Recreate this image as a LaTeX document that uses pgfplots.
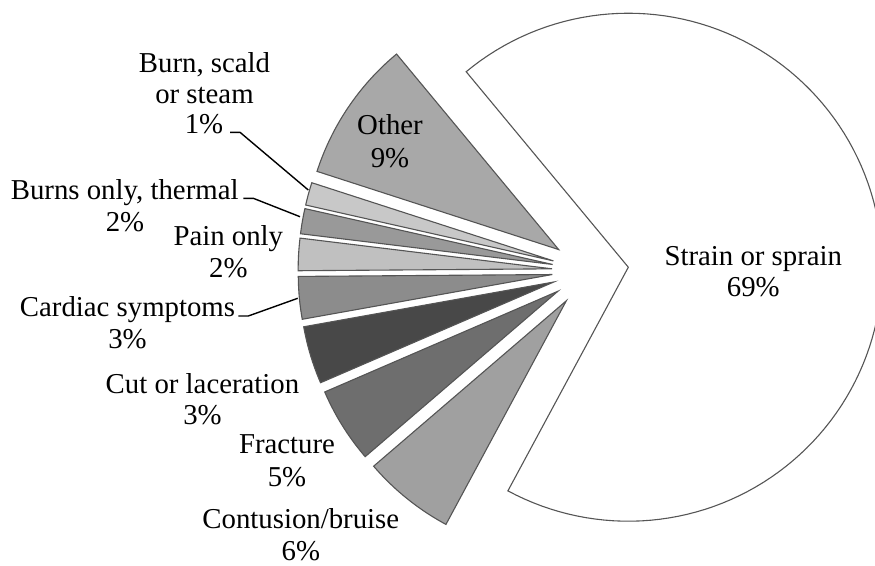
\documentclass[border=0pt]{standalone}
\usepackage{pgfplots}
\pgfplotsset{compat=1.18}
\usepackage{fontspec}
\setmainfont{Liberation Serif}
\definecolor{edge}{HTML}{555555}
\definecolor{cStrain}{HTML}{FFFFFF}
\definecolor{cContusion}{HTML}{A0A0A0}
\definecolor{cFracture}{HTML}{6E6E6E}
\definecolor{cCut}{HTML}{484848}
\definecolor{cCardiac}{HTML}{8C8C8C}
\definecolor{cPain}{HTML}{C0C0C0}
\definecolor{cBurns}{HTML}{999999}
\definecolor{cScald}{HTML}{C8C8C8}
\definecolor{cOther}{HTML}{A8A8A8}
% pie geometry (picture units = px of the reference, y downwards)
\def\pcx{590.3}\def\pcy{271}\def\prad{254}\def\pexp{38.2}
% one slice: #1 = percentage, #2 = fill colour; slices go clockwise
\newcommand\pieslice[2]{%
  \pgfmathsetmacro\pe{\ps-3.6*#1}%
  \pgfmathsetmacro\pmid{(\ps+\pe)/2}%
  \pgfmathsetmacro\pax{\pcx+\pexp*cos(\pmid)}%
  \pgfmathsetmacro\pay{\pcy-\pexp*sin(\pmid)}%
  \edef\tmp{\noexpand\addplot[draw=edge, line width=1.1pt, fill=#2, domain=\pe:\ps, samples=120, line join=miter]
     ({\pax+\prad*cos(x)},{\pay-\prad*sin(x)}) -- (axis cs:\pax,\pay) -- cycle;}%
  \tmp
  \global\let\ps\pe
}
\begin{document}
\begin{tikzpicture}
\begin{axis}[scale only axis, width=875pt, height=565pt,
  xmin=0, xmax=875, ymin=0, ymax=565, y dir=reverse, hide axis, clip=true]
\gdef\ps{129.67}
\pieslice{68.88}{cStrain}   % Strain or sprain
\pieslice{5.85}{cContusion} % Contusion/bruise
\pieslice{4.80}{cFracture}  % Fracture
\pieslice{3.67}{cCut}       % Cut or laceration
\pieslice{2.70}{cCardiac}   % Cardiac symptoms
\pieslice{2.05}{cPain}      % Pain only
\pieslice{1.60}{cBurns}     % Burns only, thermal
\pieslice{1.45}{cScald}     % Burn, scald or steam
\pieslice{9.00}{cOther}     % Other
% leader lines
\draw[black, line width=1.4pt] (axis cs:230,132.3) -- (axis cs:240,132.3) -- (axis cs:308.3,190);
\draw[black, line width=1.4pt] (axis cs:243.3,198.3) -- (axis cs:253.3,198.3) -- (axis cs:300,216.7);
\draw[black, line width=1.4pt] (axis cs:238.3,316) -- (axis cs:248.3,316) -- (axis cs:297.7,298.3);
% labels
\tikzset{lab/.style={anchor=base, inner sep=0pt, font=\fontsize{28.8}{32}\selectfont}}
\node[lab] at (axis cs:753.3,265.7) {Strain or sprain};
\node[lab] at (axis cs:753.3,296.7) {69\%};
\node[lab] at (axis cs:390,134) {Other};
\node[lab] at (axis cs:390,167) {9\%};
\node[lab] at (axis cs:204.5,72) {Burn, scald};
\node[lab] at (axis cs:204.5,103.3) {or steam};
\node[lab] at (axis cs:204,133.3) {1\%};
\node[lab] at (axis cs:124.7,199.3) {Burns only, thermal};
\node[lab] at (axis cs:125,231.7) {2\%};
\node[lab] at (axis cs:228.3,245.7) {Pain only};
\node[lab] at (axis cs:228.3,277) {2\%};
\node[lab] at (axis cs:127.5,316.7) {Cardiac symptoms};
\node[lab] at (axis cs:127.5,348.3) {3\%};
\node[lab] at (axis cs:202.5,393.3) {Cut or laceration};
\node[lab] at (axis cs:202.5,424) {3\%};
\node[lab] at (axis cs:287,453.3) {Fracture};
\node[lab] at (axis cs:287,486) {5\%};
\node[lab] at (axis cs:300.8,528.5) {Contusion/bruise};
\node[lab] at (axis cs:300.8,560) {6\%};
\coordinate (bbA) at (rel axis cs:0,0);
\coordinate (bbB) at (rel axis cs:1,1);
\end{axis}
\pgfresetboundingbox
\path[use as bounding box] (bbA) rectangle (bbB);
\end{tikzpicture}
\end{document}
